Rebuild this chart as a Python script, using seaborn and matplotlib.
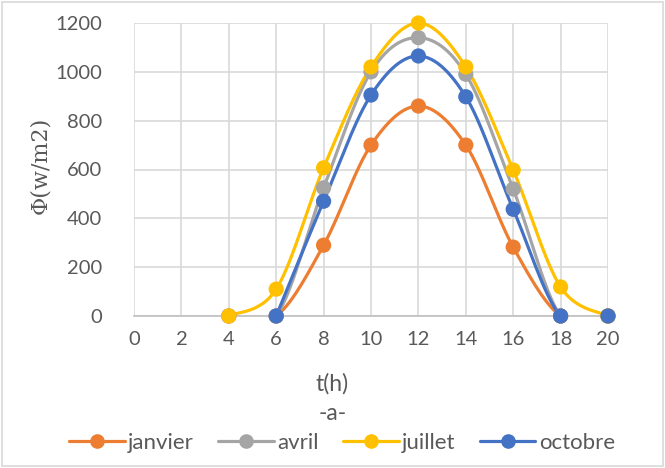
import numpy as np
import pandas as pd
import matplotlib
matplotlib.use("Agg")
import matplotlib.pyplot as plt
from matplotlib.lines import Line2D
from matplotlib.patches import Rectangle
import seaborn as sns

# ---- data ----
hours = [4, 6, 8, 10, 12, 14, 16, 18, 20]
janvier = [0, 0, 290, 700, 860, 700, 282, 0, 0]
avril = [0, 0, 525, 1000, 1140, 990, 520, 0, 0]
juillet = [0, 110, 607, 1020, 1200, 1020, 598, 119, 0]
octobre_hours = [6, 8, 10, 12, 14, 16, 18, 20]
octobre = [0, 470, 905, 1065, 898, 437, 0, 0]
series_names = ["janvier", "avril", "juillet", "octobre"]
colors = ["#ED7D31", "#A5A5A5", "#FFC000", "#4472C4"]
x_ticks = list(range(0, 21, 2))
y_ticks = list(range(0, 1201, 200))

series = {
    "janvier": (hours, janvier),
    "avril": (hours, avril),
    "juillet": (hours, juillet),
    "octobre": (octobre_hours, octobre),
}


def excel_smooth(xs, ys, n=30):
    xs = np.asarray(xs, float)
    ys = np.asarray(ys, float)
    P = np.column_stack([xs, ys])
    out = []
    m = len(P)
    for i in range(m - 1):
        p0 = P[i - 1] if i > 0 else P[i]
        p1 = P[i]
        p2 = P[i + 1]
        p3 = P[i + 2] if i + 2 < m else P[i + 1]
        c1 = p1 + (p2 - p0) / 6.0
        c2 = p2 - (p3 - p1) / 6.0
        t = np.linspace(0, 1, n)[:, None]
        seg = ((1 - t) ** 3) * p1 + 3 * ((1 - t) ** 2) * t * c1 + 3 * (1 - t) * t ** 2 * c2 + t ** 3 * p2
        if i > 0:
            seg = seg[1:]
        out.append(seg)
    return np.vstack(out)


rows = []
pts = []
for name in series_names:
    xs, ys = series[name]
    curve = excel_smooth(xs, ys)
    for a, b in curve:
        rows.append({"t": a, "phi": b, "mois": name})
    for a, b in zip(xs, ys):
        pts.append({"t": a, "phi": b, "mois": name})
curve_df = pd.DataFrame(rows)
pts_df = pd.DataFrame(pts)

sns.set_theme(style="white")
plt.rcParams["font.family"] = ["Lato", "DejaVu Sans"]

fig = plt.figure(figsize=(6.65, 4.68), dpi=100)
ax = fig.add_axes([134 / 665, 1 - 316 / 468, (608 - 134) / 665, (316 - 23) / 468])

palette = dict(zip(series_names, colors))
for name in series_names:
    sub = curve_df[curve_df["mois"] == name]
    sns.lineplot(data=sub, x="t", y="phi", color=palette[name], sort=False,
                 estimator=None, linewidth=2.3, ax=ax, legend=False, zorder=3)
    sp = pts_df[pts_df["mois"] == name]
    sns.scatterplot(data=sp, x="t", y="phi", color=palette[name], s=120,
                    edgecolor="none", ax=ax, legend=False, zorder=4, clip_on=False)

ax.set_xlim(0, 20)
ax.set_ylim(0, 1200)
ax.set_xticks(x_ticks)
ax.set_yticks(y_ticks)
ax.grid(True, color="#D9D9D9", linewidth=1.2)
ax.set_axisbelow(True)
for s in ["top", "right", "left"]:
    ax.spines[s].set_visible(False)
ax.spines["bottom"].set_color("#BFBFBF")
ax.spines["bottom"].set_linewidth(1.2)
ax.tick_params(axis="both", length=0, labelsize=14.5, labelcolor="#595959")
ax.tick_params(axis="x", pad=11)
ax.tick_params(axis="y", pad=23)
ax.set_xlabel("")
ax.set_ylabel("")

fig.text(40 / 665, 1 - 165 / 468, "Φ(w/m2)", rotation=90, ha="center", va="center",
         fontsize=16, color="#595959", family=["DejaVu Serif"])
fig.text(332 / 665, 1 - 384 / 468, "t(h)", ha="center", va="center", fontsize=16.5, color="#595959")
fig.text(333 / 665, 1 - 414 / 468, "-a-", ha="center", va="center", fontsize=16.5, color="#595959")

handles = [Line2D([0], [0], color=c, lw=2.3, marker="o", markersize=9.5) for c in colors]
fig.legend(handles, series_names, loc="center", bbox_to_anchor=(342 / 665, 1 - 443 / 468),
           ncol=4, frameon=False, fontsize=16, handlelength=2.5, columnspacing=1.1,
           handletextpad=0.15, labelcolor="#595959")

fig.patches.append(Rectangle((0.003, 0.004), 0.994, 0.992, transform=fig.transFigure,
                             fill=False, edgecolor="#D9D9D9", linewidth=1.2))

fig.savefig("out.png", dpi=100)
